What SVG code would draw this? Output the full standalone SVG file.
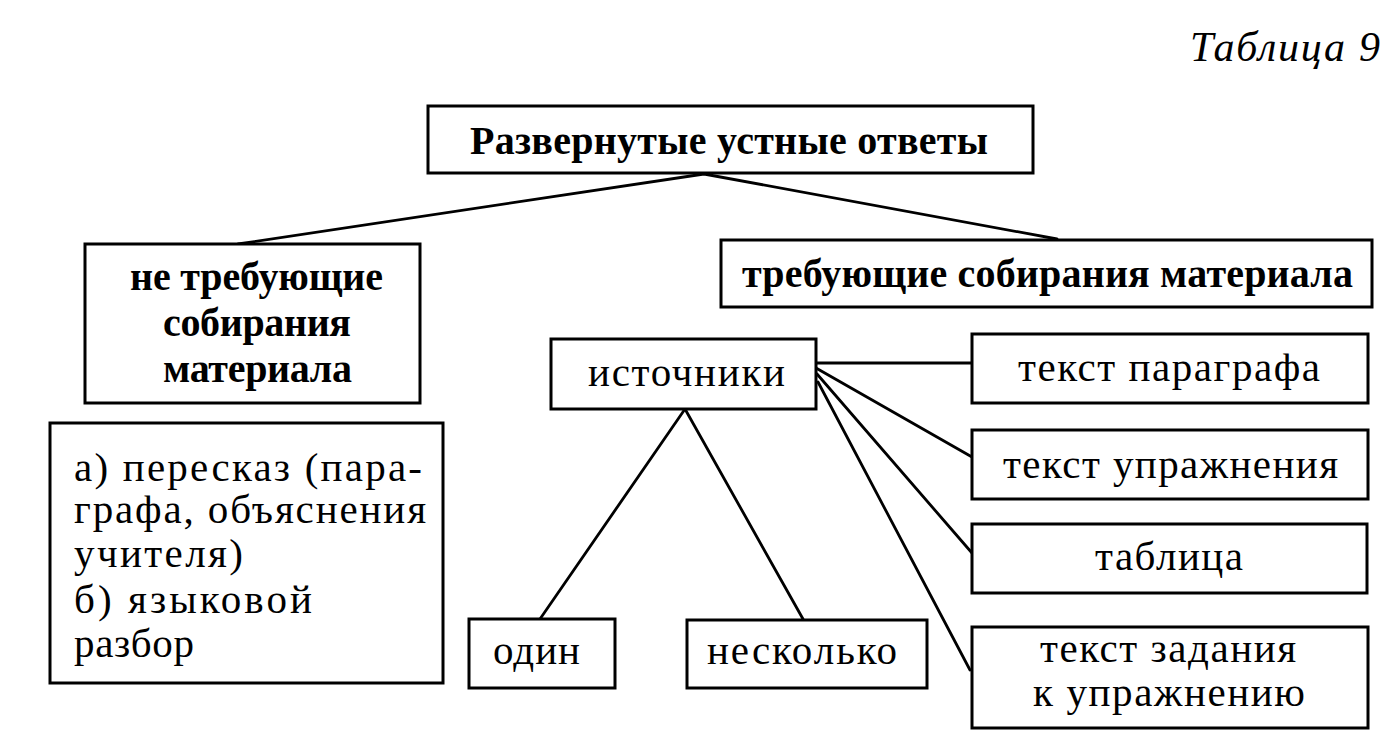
<svg xmlns="http://www.w3.org/2000/svg" width="1392" height="756" viewBox="0 0 1392 756">
<style>
.box{fill:#fff;stroke:#000;stroke-width:3}
.ln{stroke:#000;stroke-width:2.8;fill:none;stroke-linecap:round}
.b{font-family:"Liberation Serif","Times New Roman",serif;font-weight:bold;font-size:40px;fill:#000}
.r{font-family:"Liberation Serif","Times New Roman",serif;font-size:41px;fill:#000}
.i{font-family:"Liberation Serif","Times New Roman",serif;font-style:italic;font-size:42px;fill:#000}
</style>
<rect width="1392" height="756" fill="#fff"/>
<text class="i" x="1190" y="61" textLength="190" lengthAdjust="spacing">Таблица 9</text>
<g id="connectors">
<line class="ln" x1="704" y1="174" x2="238" y2="244"/>
<line class="ln" x1="704" y1="174" x2="1057" y2="239"/>
<line class="ln" x1="816" y1="363" x2="972" y2="363"/>
<line class="ln" x1="816" y1="368" x2="972" y2="457"/>
<line class="ln" x1="817" y1="374" x2="972" y2="553"/>
<line class="ln" x1="818" y1="382" x2="970" y2="670"/>
<line class="ln" x1="685" y1="409" x2="540" y2="619"/>
<line class="ln" x1="685" y1="409" x2="803" y2="619"/>
</g>
<g id="root">
<rect class="box" x="428" y="106" width="605" height="67"/>
<text class="b" x="470" y="154" textLength="518" lengthAdjust="spacing">Развернутые устные ответы</text>
</g>
<g id="no-collect">
<rect class="box" x="85" y="244" width="335" height="159"/>
<text class="b" x="130" y="290" textLength="253" lengthAdjust="spacing">не требующие</text>
<text class="b" x="163" y="336" textLength="188" lengthAdjust="spacing">собирания</text>
<text class="b" x="163" y="382" textLength="189" lengthAdjust="spacing">материала</text>
</g>
<g id="no-collect-list">
<rect class="box" x="50" y="423" width="393" height="260"/>
<text class="r" x="74" y="481" textLength="348" lengthAdjust="spacing">а) пересказ (пара-</text>
<text class="r" x="74" y="523" textLength="352" lengthAdjust="spacing">графа, объяснения</text>
<text class="r" x="74" y="567" textLength="169" lengthAdjust="spacing">учителя)</text>
<text class="r" x="74" y="613" textLength="238" lengthAdjust="spacing">б) языковой</text>
<text class="r" x="74" y="657" textLength="120" lengthAdjust="spacing">разбор</text>
</g>
<g id="collect">
<rect class="box" x="721" y="240" width="651" height="67"/>
<text class="b" x="742" y="287" textLength="611" lengthAdjust="spacing">требующие собирания материала</text>
</g>
<g id="sources">
<rect class="box" x="551" y="339" width="265" height="70"/>
<text class="r" x="588" y="386" textLength="197" lengthAdjust="spacing">источники</text>
</g>
<g id="one">
<rect class="box" x="469" y="619" width="146" height="69"/>
<text class="r" x="493" y="664" textLength="87" lengthAdjust="spacing">один</text>
</g>
<g id="several">
<rect class="box" x="687" y="620" width="240" height="68"/>
<text class="r" x="707" y="664" textLength="190" lengthAdjust="spacing">несколько</text>
</g>
<g id="paragraph-text">
<rect class="box" x="972" y="334" width="396" height="69"/>
<text class="r" x="1018" y="381" textLength="302" lengthAdjust="spacing">текст параграфа</text>
</g>
<g id="exercise-text">
<rect class="box" x="972" y="430" width="396" height="69"/>
<text class="r" x="1003" y="478" textLength="335" lengthAdjust="spacing">текст упражнения</text>
</g>
<g id="table">
<rect class="box" x="972" y="524" width="395" height="69"/>
<text class="r" x="1095" y="570" textLength="148" lengthAdjust="spacing">таблица</text>
</g>
<g id="task-text">
<rect class="box" x="972" y="627" width="396" height="101"/>
<text class="r" x="1040" y="662" textLength="256" lengthAdjust="spacing">текст задания</text>
<text class="r" x="1033" y="706" textLength="272" lengthAdjust="spacing">к упражнению</text>
</g>
</svg>
